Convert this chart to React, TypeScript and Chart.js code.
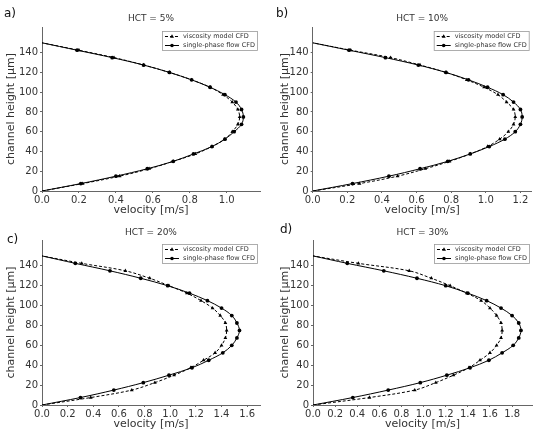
import React, { useEffect, useRef } from "react";
import { Chart, registerables } from "chart.js";

Chart.register(...registerables);

// ---------- data ----------
const heights = [0, 7.5, 15, 22.5, 30, 37.5, 45, 52.5, 60, 67.5, 75, 82.5, 90, 97.5, 105, 112.5, 120, 127.5, 135, 142.5, 150];
const yTicks = [0, 20, 40, 60, 80, 100, 120, 140];

const hct5Viscosity = [0, 0.22, 0.42, 0.58, 0.71, 0.83, 0.92, 0.99, 1.03, 1.06, 1.07, 1.06, 1.03, 0.98, 0.91, 0.81, 0.69, 0.55, 0.39, 0.2, 0];
const hct5Single = [0, 0.21, 0.4, 0.57, 0.71, 0.82, 0.92, 0.99, 1.04, 1.08, 1.09, 1.08, 1.05, 0.99, 0.91, 0.81, 0.69, 0.55, 0.38, 0.19, 0];

const hct10Viscosity = [0, 0.27, 0.49, 0.65, 0.79, 0.91, 1.01, 1.08, 1.13, 1.16, 1.17, 1.16, 1.12, 1.07, 0.99, 0.89, 0.77, 0.62, 0.45, 0.22, 0];
const hct10Single = [0, 0.23, 0.44, 0.62, 0.78, 0.91, 1.02, 1.11, 1.17, 1.2, 1.21, 1.2, 1.16, 1.1, 1.01, 0.9, 0.77, 0.61, 0.42, 0.21, 0];

const hct20Viscosity = [0, 0.38, 0.7, 0.88, 1.03, 1.16, 1.26, 1.35, 1.4, 1.43, 1.44, 1.43, 1.39, 1.33, 1.24, 1.13, 0.99, 0.84, 0.65, 0.31, 0];
const hct20Single = [0, 0.3, 0.56, 0.79, 0.99, 1.17, 1.3, 1.41, 1.48, 1.52, 1.54, 1.52, 1.48, 1.4, 1.29, 1.15, 0.98, 0.77, 0.53, 0.26, 0];

const hct30Viscosity = [0, 0.51, 0.92, 1.11, 1.27, 1.41, 1.51, 1.6, 1.66, 1.7, 1.71, 1.7, 1.66, 1.6, 1.52, 1.39, 1.24, 1.07, 0.87, 0.41, 0];
const hct30Single = [0, 0.36, 0.68, 0.97, 1.21, 1.42, 1.59, 1.71, 1.81, 1.86, 1.88, 1.86, 1.8, 1.7, 1.57, 1.4, 1.2, 0.94, 0.64, 0.31, 0];

const xTicks5 = [0, 0.2, 0.4, 0.6, 0.8, 1.0];
const xTicks10 = [0, 0.2, 0.4, 0.6, 0.8, 1.0, 1.2];
const xTicks20 = [0, 0.2, 0.4, 0.6, 0.8, 1.0, 1.2, 1.4, 1.6];
const xTicks30 = [0, 0.2, 0.4, 0.6, 0.8, 1.0, 1.2, 1.4, 1.6, 1.8];

const seriesNames = ["viscosity model CFD", "single-phase flow CFD"];
const panelTitles = ["HCT = 5%", "HCT = 10%", "HCT = 20%", "HCT = 30%"];
const panelLetters = ["a)", "b)", "c)", "d)"];
const xAxisTitle = "velocity [m/s]";
const yAxisTitle = "channel height [\u00b5m]";

// ---------- layout ----------
const FONT = '"DejaVu Sans", sans-serif';
const W = 275;
const H = 217;

type Panel = {
  left: number; top: number;
  L: number; R: number; T: number; B: number;
  xMax: number; yMax: number;
  xTicks: number[];
  visc: number[]; single: number[];
  title: string; letter: string;
  letterX: number; letterY: number; titleY: number;
  yTitleX: number; xTitleY: number;
};

const panels: Panel[] = [
  { left: 0, top: 0, L: 42, R: 260, T: 27, B: 191, xMax: 1.18, yMax: 166, xTicks: xTicks5,
    visc: hct5Viscosity, single: hct5Single, title: panelTitles[0], letter: panelLetters[0],
    letterX: 4, letterY: 14, titleY: 19, yTitleX: 11, xTitleY: 210 },
  { left: 275, top: 0, L: 37.7, R: 256.7, T: 27, B: 191, xMax: 1.265, yMax: 166, xTicks: xTicks10,
    visc: hct10Viscosity, single: hct10Single, title: panelTitles[1], letter: panelLetters[1],
    letterX: 1, letterY: 14, titleY: 19, yTitleX: 10, xTitleY: 210 },
  { left: 0, top: 217, L: 42, R: 260, T: 23, B: 188, xMax: 1.7, yMax: 166, xTicks: xTicks20,
    visc: hct20Viscosity, single: hct20Single, title: panelTitles[2], letter: panelLetters[2],
    letterX: 7, letterY: 23, titleY: 16, yTitleX: 11, xTitleY: 207 },
  { left: 275, top: 217, L: 38, R: 257, T: 23, B: 188, xMax: 1.98, yMax: 166, xTicks: xTicks30,
    visc: hct30Viscosity, single: hct30Single, title: panelTitles[3], letter: panelLetters[3],
    letterX: 5, letterY: 13, titleY: 16, yTitleX: 10, xTitleY: 207 },
];

function toPoints(xs: number[]) {
  return xs.map((x, i) => ({ x, y: heights[i] }));
}

function radii(n: number, r: number) {
  return Array.from({ length: n }, (_, i) => (i === 0 || i === n - 1 ? 0 : r));
}

const decorPlugin = {
  id: "decor",
  afterDraw(chart: any) {
    const p: Panel = chart.options.plugins.decor.panel;
    const ctx = chart.ctx;
    const ca = chart.chartArea;
    ctx.save();
    // title
    ctx.fillStyle = "#333";
    ctx.font = `9px ${FONT}`;
    ctx.textAlign = "center";
    ctx.textBaseline = "middle";
    ctx.fillText(p.title, (ca.left + ca.right) / 2, p.titleY);
    // letter
    ctx.fillStyle = "#111";
    ctx.font = `12px ${FONT}`;
    ctx.textAlign = "left";
    ctx.fillText(p.letter, p.letterX, p.letterY);
    // legend
    ctx.font = `6.5px ${FONT}`;
    const tw = Math.max(...seriesNames.map((s) => ctx.measureText(s).width));
    const lw = 21 + tw + 3;
    const lh = 20;
    const lx = ca.right - 2 - lw;
    const ly = ca.top + 4;
    ctx.fillStyle = "rgba(255,255,255,0.9)";
    ctx.fillRect(lx, ly, lw, lh);
    ctx.strokeStyle = "#999";
    ctx.lineWidth = 0.8;
    ctx.strokeRect(lx + 0.5, ly + 0.5, lw - 1, lh - 1);
    const rows = [ly + 5.5, ly + 14.5];
    rows.forEach((ry, i) => {
      ctx.strokeStyle = "#000";
      ctx.lineWidth = 1;
      ctx.setLineDash(i === 0 ? [3, 2] : []);
      ctx.beginPath();
      ctx.moveTo(lx + 3, ry);
      ctx.lineTo(lx + 17, ry);
      ctx.stroke();
      ctx.setLineDash([]);
      ctx.fillStyle = "#000";
      ctx.beginPath();
      const mx = lx + 10;
      if (i === 0) {
        ctx.moveTo(mx, ry - 2.2);
        ctx.lineTo(mx + 2, ry + 1.3);
        ctx.lineTo(mx - 2, ry + 1.3);
        ctx.closePath();
      } else {
        ctx.arc(mx, ry, 1.8, 0, Math.PI * 2);
      }
      ctx.fill();
      ctx.fillStyle = "#333";
      ctx.textAlign = "left";
      ctx.textBaseline = "middle";
      ctx.fillText(seriesNames[i], lx + 21, ry + 0.3);
    });
    ctx.restore();
  },
};

function PanelChart({ panel }: { panel: Panel }) {
  const ref = useRef<HTMLCanvasElement | null>(null);
  useEffect(() => {
    if (!ref.current) return;
    const p = panel;
    const titleLH = 11 * 1.2;
    const chart = new Chart(ref.current, {
      type: "scatter",
      data: {
        datasets: [
          {
            label: seriesNames[0],
            data: toPoints(p.visc),
            showLine: true,
            borderColor: "#000",
            backgroundColor: "#000",
            borderWidth: 1,
            borderDash: [3, 2],
            pointStyle: "triangle",
            pointRadius: radii(p.visc.length, 2.2),
            pointBorderWidth: 0,
            tension: 0.35,
          },
          {
            label: seriesNames[1],
            data: toPoints(p.single),
            showLine: true,
            borderColor: "#000",
            backgroundColor: "#000",
            borderWidth: 1,
            pointStyle: "circle",
            pointRadius: radii(p.single.length, 1.9),
            pointBorderWidth: 0,
            tension: 0.35,
          },
        ],
      },
      options: {
        responsive: false,
        animation: false,
        devicePixelRatio: 1,
        layout: { padding: { left: 0, top: p.T, right: W - p.R, bottom: 0 } },
        plugins: {
          legend: { display: false },
          tooltip: { enabled: false },
          // @ts-ignore
          decor: { panel: p },
        },
        scales: {
          x: {
            type: "linear",
            min: 0,
            max: p.xMax,
            afterFit: (s: any) => { s.height = H - p.B; },
            afterBuildTicks: (s: any) => { s.ticks = p.xTicks.map((v) => ({ value: v })); },
            grid: { display: true, drawOnChartArea: false, drawTicks: true, tickLength: 2, color: "#666" },
            border: { display: true, color: "#666", width: 1 },
            ticks: {
              color: "#333",
              font: { family: FONT, size: 10 },
              padding: 1,
              maxRotation: 0,
              autoSkip: false,
              callback: (v: any) => Number(v).toFixed(1),
            },
            title: {
              display: true,
              text: xAxisTitle,
              color: "#333",
              font: { family: FONT, size: 11 },
              padding: { top: 0, bottom: H - p.xTitleY - titleLH / 2 },
            },
          },
          y: {
            type: "linear",
            min: 0,
            max: p.yMax,
            afterFit: (s: any) => { s.width = p.L; },
            afterBuildTicks: (s: any) => { s.ticks = yTicks.map((v) => ({ value: v })); },
            grid: { display: true, drawOnChartArea: false, drawTicks: true, tickLength: 2, color: "#666" },
            border: { display: true, color: "#666", width: 1 },
            ticks: {
              color: "#333",
              font: { family: FONT, size: 10 },
              padding: 2,
              autoSkip: false,
              callback: (v: any) => String(v),
            },
            title: {
              display: true,
              text: yAxisTitle,
              color: "#333",
              font: { family: FONT, size: 11 },
              padding: { top: p.yTitleX - titleLH / 2, bottom: 0 },
            },
          },
        },
      },
      plugins: [decorPlugin],
    } as any);
    return () => chart.destroy();
  }, [panel]);
  return (
    <div style={{ position: "absolute", left: panel.left, top: panel.top, width: W, height: H }}>
      <canvas ref={ref} width={W} height={H} style={{ display: "block", width: W, height: H }} />
    </div>
  );
}

export default function App() {
  return (
    <div style={{ position: "absolute", left: 0, top: 0, width: 550, height: 434, background: "#fff", overflow: "hidden" }}>
      {panels.map((p, i) => (
        <PanelChart key={i} panel={p} />
      ))}
    </div>
  );
}
